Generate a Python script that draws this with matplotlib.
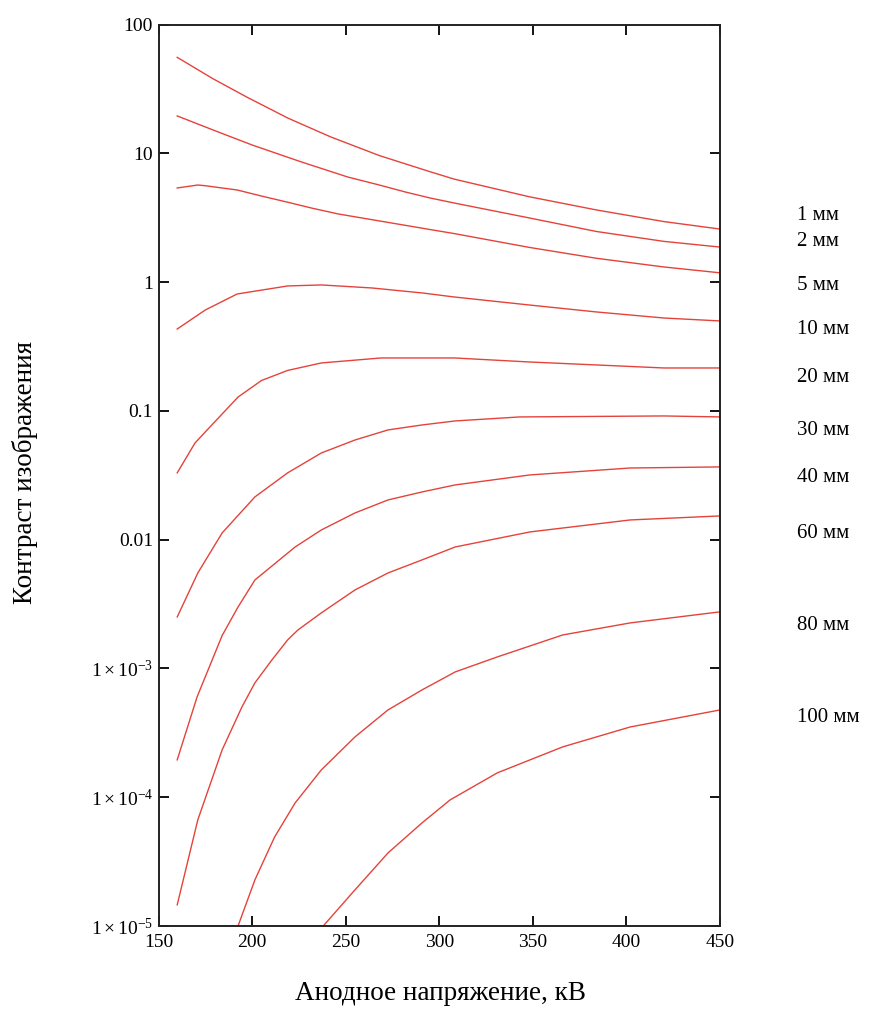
import matplotlib
matplotlib.use("Agg")
import matplotlib.pyplot as plt
from matplotlib.ticker import FixedLocator, FixedFormatter, NullLocator

plt.rcParams['font.family'] = ['Liberation Serif', 'DejaVu Serif']
plt.rcParams['mathtext.fontset'] = 'custom'
plt.rcParams['mathtext.rm'] = 'Liberation Serif'
plt.rcParams['mathtext.it'] = 'Liberation Serif:italic'
plt.rcParams['mathtext.bf'] = 'Liberation Serif:bold'

# ---- data ----
thickness_labels = ["1 мм", "2 мм", "5 мм", "10 мм", "20 мм", "30 мм", "40 мм", "60 мм", "80 мм", "100 мм"]

v_1mm = [160, 179, 197, 219, 242, 268, 295, 308, 348, 384, 420, 450]
c_1mm = [55.6, 38.0, 27.4, 18.8, 13.4, 9.6, 7.2, 6.3, 4.6, 3.63, 2.95, 2.58]

v_2mm = [160, 179, 200, 226, 251, 268, 282, 295, 308, 348, 384, 420, 450]
c_2mm = [19.5, 15.2, 11.6, 8.6, 6.55, 5.67, 5.0, 4.5, 4.11, 3.15, 2.47, 2.07, 1.87]

v_5mm = [160, 171, 175, 183, 192, 206, 219, 232, 246, 270, 295, 308, 348, 384, 420, 450]
c_5mm = [5.38, 5.67, 5.6, 5.4, 5.19, 4.62, 4.17, 3.75, 3.38, 2.95, 2.56, 2.38, 1.86, 1.53, 1.31, 1.18]

v_10mm = [160, 175, 192, 219, 237, 264, 291, 308, 348, 384, 420, 450]
c_10mm = [0.432, 0.607, 0.808, 0.933, 0.95, 0.90, 0.823, 0.766, 0.664, 0.586, 0.526, 0.499]

v_20mm = [160, 169.5, 176, 192.5, 205, 219, 237, 269, 308, 348, 384, 420, 450]
c_20mm = [0.033, 0.0563, 0.0711, 0.128, 0.172, 0.206, 0.2355, 0.2575, 0.2575, 0.2397, 0.2272, 0.2153, 0.2153]

v_30mm = [160, 171, 184, 201.5, 219, 237, 255, 272.6, 290.8, 308.5, 343, 420, 450]
c_30mm = [0.00251, 0.00551, 0.01127, 0.02146, 0.033, 0.0471, 0.0594, 0.0711, 0.0777, 0.0835, 0.0897, 0.0913, 0.0897]

v_40mm = [160, 170.6, 184, 192.5, 201.5, 223, 237, 255, 272.6, 290.8, 308.5, 348.5, 402, 450]
c_40mm = [1.95e-4, 6.0e-4, 1.8e-3, 3.0e-3, 4.86e-3, 8.77e-3, 0.01189, 0.01612, 0.02033, 0.02346, 0.0266, 0.0318, 0.036, 0.0367]

v_60mm = [160, 171, 184, 194.6, 201.5, 210.6, 219, 224.5, 237, 255, 272.6, 290.8, 308.5, 348.5, 402, 450]
c_60mm = [1.46e-5, 6.67e-5, 2.33e-4, 5.03e-4, 7.72e-4, 1.164e-3, 1.665e-3, 1.99e-3, 2.70e-3, 4.07e-3, 5.51e-3, 6.96e-3, 8.77e-3, 0.01148, 0.01422, 0.01528]

v_80mm = [192.5, 201.5, 212, 223, 237, 255, 272.6, 290.8, 308.5, 331, 366, 402, 450]
c_80mm = [1.0e-5, 2.28e-5, 4.9e-5, 9.03e-5, 1.63e-4, 2.94e-4, 4.76e-4, 6.81e-4, 9.39e-4, 1.228e-3, 1.82e-3, 2.256e-3, 2.75e-3]

v_100mm = [238, 255, 272.6, 290.8, 305.8, 331, 366, 402, 450]
c_100mm = [1.0e-5, 1.91e-5, 3.69e-5, 6.32e-5, 9.53e-5, 1.545e-4, 2.46e-4, 3.51e-4, 4.76e-4]

x_ticks = [150, 200, 250, 300, 350, 400, 450]
x_tick_labels = ["150", "200", "250", "300", "350", "400", "450"]
y_ticks = [1e-5, 1e-4, 1e-3, 1e-2, 1e-1, 1, 10, 100]
y_tick_labels = [r"$1\times10^{-5}$", r"$1\times10^{-4}$", r"$1\times10^{-3}$",
                 "0.01", "0.1", "1", "10", "100"]

series_v = [v_1mm, v_2mm, v_5mm, v_10mm, v_20mm, v_30mm, v_40mm, v_60mm, v_80mm, v_100mm]
series_c = [c_1mm, c_2mm, c_5mm, c_10mm, c_20mm, c_30mm, c_40mm, c_60mm, c_80mm, c_100mm]

# label vertical positions (figure pixels from top)
label_y_px = [216, 241, 285, 330, 378, 430, 477, 533, 625, 718]

W, H = 880, 1009
fig = plt.figure(figsize=(W / 100, H / 100), dpi=100)
fig.patch.set_facecolor("white")

left, right, top, bottom = 158.5, 720, 24.5, 926
ax = fig.add_axes([left / W, 1 - bottom / H, (right - left) / W, (bottom - top) / H])

line_color = "#e4433b"
for v, c in zip(series_v, series_c):
    ax.plot(v, c, color=line_color, lw=1.0, solid_joinstyle="round")

ax.set_yscale("log")
ax.set_xlim(150, 450)
ax.set_ylim(1e-5, 100)

ax.xaxis.set_major_locator(FixedLocator(x_ticks))
ax.xaxis.set_major_formatter(FixedFormatter(x_tick_labels))
ax.yaxis.set_major_locator(FixedLocator(y_ticks))
ax.yaxis.set_major_formatter(FixedFormatter(y_tick_labels))
ax.xaxis.set_minor_locator(NullLocator())
ax.yaxis.set_minor_locator(NullLocator())

ax.tick_params(which="major", direction="in", length=7, width=1.3, color="black",
               top=True, right=True, labelsize=14)
ax.tick_params(axis="x", pad=6)
ax.tick_params(axis="y", pad=4)
for s in ax.spines.values():
    s.set_linewidth(1.4)
    s.set_color("#222222")

fig.text(440 / W, 1 - 993 / H, "Анодное напряжение, кВ", ha="center", va="center", fontsize=19.5)
fig.text(25 / W, 1 - 472 / H, "Контраст изображения", ha="center", va="center",
         rotation=90, fontsize=19.5)

for lbl, ypx in zip(thickness_labels, label_y_px):
    fig.text(797 / W, 1 - ypx / H, lbl, ha="left", va="center", fontsize=15)

fig.savefig("out.png", dpi=100, facecolor="white")
